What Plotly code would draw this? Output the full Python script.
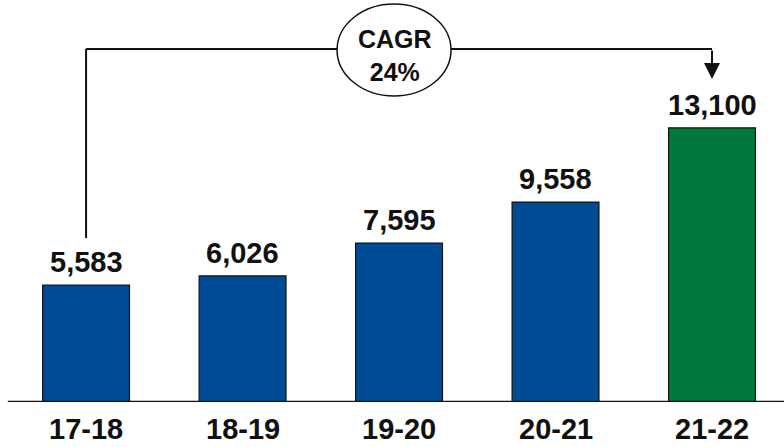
import plotly.graph_objects as go

categories = ["17-18", "18-19", "19-20", "20-21", "21-22"]
values = [5583, 6026, 7595, 9558, 13100]
bar_colors = ["#004B96", "#004B96", "#004B96", "#004B96", "#007A3C"]
cagr_label = "CAGR<br>24%"

FONT = "Liberation Sans, Arial, sans-serif"
idx = list(range(len(categories)))

fig = go.Figure()
fig.add_trace(go.Bar(
    x=idx, y=values,
    marker=dict(color=bar_colors, line=dict(color="#111111", width=1.2)),
    width=0.555,
    hoverinfo="skip",
))

# value labels
for i, v in zip(idx, values):
    fig.add_annotation(x=i, y=v, text=f"<b>{v:,}</b>", showarrow=False,
                       yanchor="bottom", yshift=5,
                       font=dict(family=FONT, size=29, color="#111111"))

# category labels
for i, c in zip(idx, categories):
    fig.add_annotation(x=i, y=0, text=f"<b>{c}</b>", showarrow=False,
                       yanchor="top", yshift=-9,
                       font=dict(family=FONT, size=29, color="#111111"))

# baseline
fig.add_shape(type="line", x0=-0.5, x1=4.46, y0=0, y1=0,
              line=dict(color="#111111", width=2.5))

# CAGR connector
top_y = 16874
fig.add_shape(type="line", x0=0, x1=0, y0=7840, y1=top_y,
              line=dict(color="#111111", width=2))
fig.add_shape(type="line", x0=0, x1=4, y0=top_y, y1=top_y,
              line=dict(color="#111111", width=2))
fig.add_annotation(x=4, y=15440, ax=4, ay=top_y, xref="x", yref="y",
                   axref="x", ayref="y", text="", showarrow=True,
                   arrowhead=2, arrowsize=1.6, arrowwidth=2, arrowcolor="#111111")

# ellipse
fig.add_shape(type="circle", x0=1.604, x1=2.332, y0=14627, y1=19025,
              fillcolor="white", line=dict(color="#111111", width=1.5))
fig.add_annotation(x=1.974, y=16587, text=f"<b>{cagr_label}</b>", showarrow=False,
                   font=dict(family=FONT, size=25, color="#111111"))

fig.update_layout(
    width=784, height=447,
    margin=dict(l=0, r=0, t=0, b=45),
    plot_bgcolor="white", paper_bgcolor="white",
    showlegend=False,
    xaxis=dict(range=[-0.55, 4.46], showticklabels=False, showgrid=False,
               zeroline=False, showline=False, fixedrange=True),
    yaxis=dict(range=[0, 19216], showticklabels=False, showgrid=False,
               zeroline=False, showline=False, fixedrange=True),
)

fig.write_html("out.html", config={"displayModeBar": False},
               post_script="document.body.style.margin='0';document.body.style.overflow='hidden';")
